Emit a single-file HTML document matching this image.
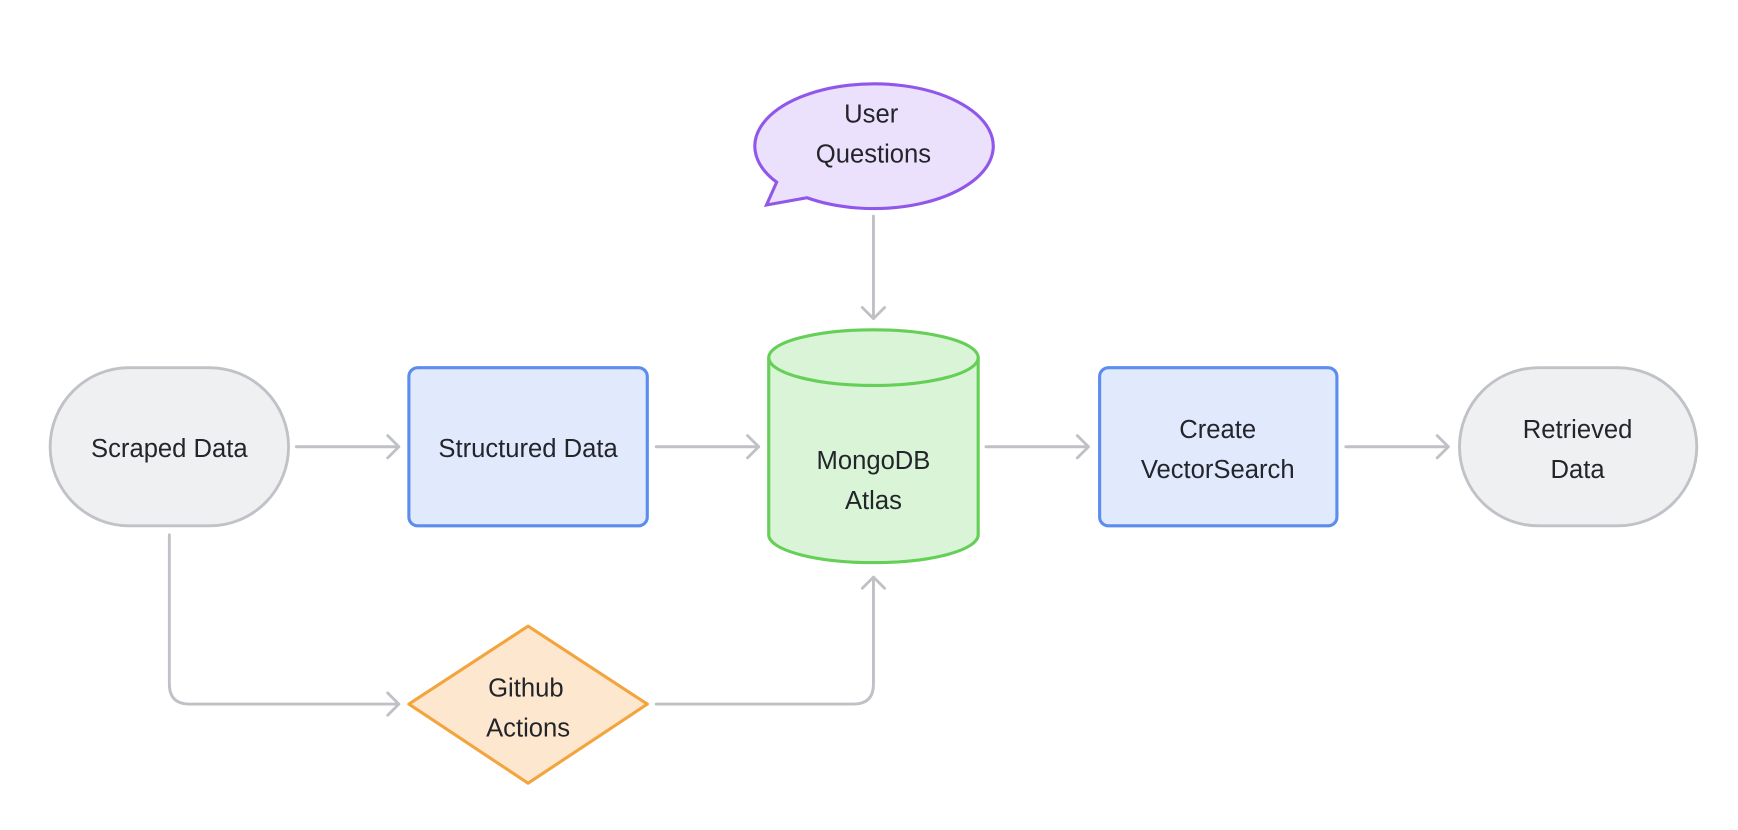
<!DOCTYPE html>
<html><head><meta charset="utf-8"><style>
html,body{margin:0;padding:0;background:#fff;}
svg{display:block;}
text{font-family:"Liberation Sans",sans-serif;font-size:23px;fill:#23252b;text-anchor:middle;}
</style></head><body>
<svg width="1738" height="830" viewBox="0 0 1560 745" xmlns="http://www.w3.org/2000/svg">
<g fill="none" stroke="#bfc1c6" stroke-width="2.6" stroke-linecap="round" stroke-linejoin="round">
<path d="M266 401H358M348 391L358 401L348 411"/>
<path d="M589 401H681M671 391L681 401L671 411"/>
<path d="M885 401H977M967 391L977 401L967 411"/>
<path d="M1208 401H1300M1290 391L1300 401L1290 411"/>
<path d="M784 194V286M774 276L784 286L794 276"/>
<path d="M152 480V614Q152 632 170 632H358M348 622L358 632L348 642"/>
<path d="M589 632H766Q784 632 784 614V518M774 528L784 518L794 528"/>
</g>
<rect x="45" y="330" width="214" height="142" rx="71" fill="#eff0f2" stroke="#c0c2c7" stroke-width="2.6"/>
<text x="152" y="410">Scraped Data</text>
<rect x="367" y="330" width="214" height="142" rx="8" fill="#e1e9fd" stroke="#5b8def" stroke-width="2.8"/>
<text x="474" y="410">Structured Data</text>
<path d="M690 321V480A94 25 0 0 0 878 480V321A94 25 0 0 0 690 321Z" fill="#d9f4d6" stroke="#65cf57" stroke-width="2.8"/>
<path d="M690 321A94 25 0 0 0 878 321" fill="none" stroke="#65cf57" stroke-width="2.8"/>
<text x="784" y="421">MongoDB</text>
<text x="784" y="457">Atlas</text>
<rect x="987" y="330" width="213" height="142" rx="8" fill="#e1e9fd" stroke="#5b8def" stroke-width="2.8"/>
<text x="1093" y="393">Create</text>
<text x="1093" y="429">VectorSearch</text>
<rect x="1310" y="330" width="213" height="142" rx="71" fill="#eff0f2" stroke="#c0c2c7" stroke-width="2.6"/>
<text x="1416" y="393">Retrieved</text>
<text x="1416" y="429">Data</text>
<path d="M697.1 163.5 A107 56 0 1 1 724.3 177.5 L688 184 Z" fill="#ebe1fc" stroke="#9057ea" stroke-width="2.8" stroke-linejoin="miter"/>
<text x="782" y="110">User</text>
<text x="784" y="146">Questions</text>
<path d="M474 562L581 632L474 703L367 632Z" fill="#fde8cf" stroke="#f4a43f" stroke-width="2.8" stroke-linejoin="round"/>
<text x="472" y="625">Github</text>
<text x="474" y="661">Actions</text>
</svg>
</body></html>
